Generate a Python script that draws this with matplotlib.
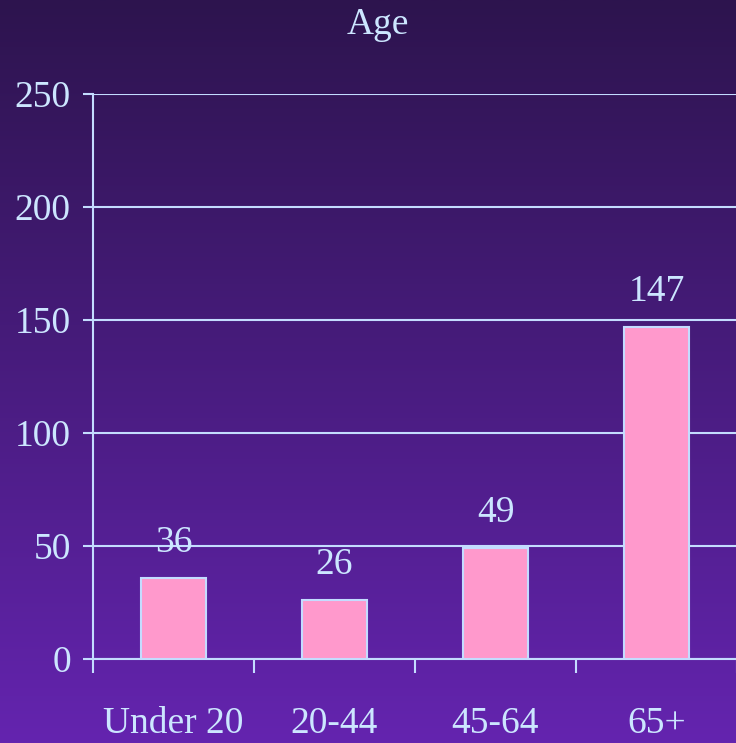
import matplotlib.pyplot as plt
import numpy as np

categories = ['Under 20', '20-44', '45-64', '65+']
values = [36, 26, 49, 147]
yticks = [0, 50, 100, 150, 200, 250]

txt = '#cce6ff'
line = '#c4dcff'
plt.rcParams['font.family'] = ['Liberation Serif', 'DejaVu Serif']

fig = plt.figure(figsize=(7.36, 7.43), dpi=100)

# gradient background, dark purple at top to brighter purple at bottom
bg = fig.add_axes([0, 0, 1, 1], zorder=-10)
top = np.array([45, 20, 78]) / 255
bot = np.array([100, 36, 175]) / 255
t = np.linspace(0, 1, 256)[:, None]
grad = top + (bot - top) * t
bg.imshow(grad[:, None, :], aspect='auto', extent=[0, 1, 0, 1])
bg.set_axis_off()

ax = fig.add_axes([93 / 736, 1 - 659 / 743, 644 / 736, 565 / 743])
ax.patch.set_alpha(0)

x = np.arange(len(categories)) + 0.5
ax.bar(x, values, width=0.4, color='#ff99cc', edgecolor=line, linewidth=1.5, zorder=3)
for xi, v in zip(x, values):
    ax.annotate(str(v), (xi, v), xytext=(0, 13), textcoords='offset points',
                ha='center', va='bottom', fontsize=27, color=txt)

ax.set_xlim(0, 4)
ax.set_ylim(0, 250)
ax.set_yticks(yticks)
ax.set_yticklabels([str(v) for v in yticks], fontsize=27, color=txt)
ax.yaxis.grid(True, color=line, linewidth=1.5, zorder=1)
ax.tick_params(axis='y', length=7, width=1.5, color=line, pad=9)

ax.set_xticks([0, 1, 2, 3, 4])
ax.set_xticklabels([])
ax.tick_params(axis='x', which='major', length=10, width=1.5, color=line, direction='out')
ax.set_xticks(x, minor=True)
ax.set_xticklabels(categories, minor=True, fontsize=27, color=txt)
ax.tick_params(axis='x', which='minor', length=0, pad=34)

for s in ['top', 'right']:
    ax.spines[s].set_visible(False)
for s in ['left', 'bottom']:
    ax.spines[s].set_color(line)
    ax.spines[s].set_linewidth(1.5)
ax.set_axisbelow(True)

fig.text(378 / 736, 1 - 25 / 743, 'Age', ha='center', va='center', fontsize=27, color=txt)

fig.savefig('out.png', dpi=100)
